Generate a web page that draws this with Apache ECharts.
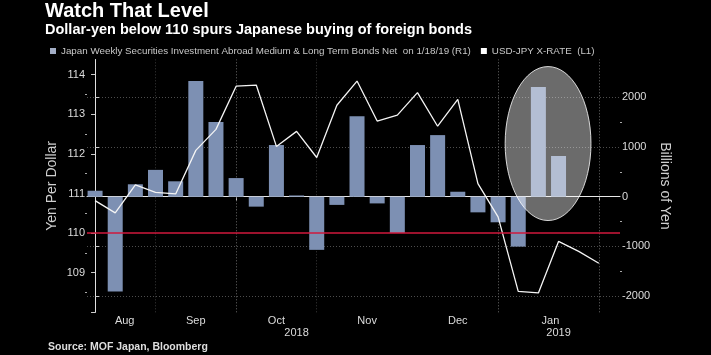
<!DOCTYPE html>
<html><head><meta charset="utf-8">
<script src="https://cdn.jsdelivr.net/npm/echarts@6/dist/echarts.min.js"></script>
<style>html,body{margin:0;padding:0;background:#000;}#c{width:711px;height:355px;}</style>
</head><body><div id="c"></div>
<script>
// ---- data ----
const barName = 'Japan Weekly Securities Investment Abroad Medium & Long Term Bonds Net  on 1/18/19 (R1)';
const lineName = 'USD-JPY X-RATE  (L1)';
// weekly net purchases, billions of yen (24 weeks, Aug 2018 - Jan 2019)
const bondFlows = [120, -1910, 250, 540, 310, 2330, 1505, 375, -200, 1040, 25, -1070, -165, 1620, -135, -730, 1040, 1240, 100, -315, -515, -1005, 2210, 820];
// weekly USD-JPY (26 weeks)
const usdjpy = [110.82, 110.51, 111.22, 111.03, 110.99, 112.09, 112.62, 113.71, 113.74, 112.19, 112.57, 111.91, 113.23, 113.84, 112.83, 112.98, 113.55, 112.70, 113.38, 111.25, 110.41, 108.53, 108.49, 109.79, 109.54, 109.24];
// axis labels (x positions in week index units)
const monthLabels = ['Aug', 'Sep', 'Oct', 'Nov', 'Dec', 'Jan'];
const monthLabelAt = [1.47, 5.0, 9.0, 13.5, 18.0, 22.6];
const yearLabels = ['2018', '2019'];
const yearLabelAt = [10, 23];
const yearBreakAt = [20];
const xTickAt = [7, 20, 25];
const xGridBright = [7, 20, 25];
const xGridFaint = [3, 11];
const leftTicks = [108, 109, 110, 111, 112, 113, 114];
const leftLabels = [109, 110, 111, 112, 113, 114];
const leftMinor = [108.5, 109.5, 110.5, 111.5, 112.5, 113.5];
const rightTicks = [-2000, -1000, 0, 1000, 2000];
const rightMinor = [-1500, -500, 500, 1500];
const refLevel = 110;

const FONT = 'Liberation Sans';
const LBL = '#dcdcdc';
const xMin = -0.4, xMax = 26.05;
const lMin = 108, lMax = 114.385;
const rMin = -2327, rMax = 2762;

const chart = echarts.init(document.getElementById('c'), null, {renderer: 'canvas'});
const option = {
  backgroundColor: '#000',
  animation: false,
  textStyle: {fontFamily: FONT},
  title: [
    {text: 'Watch That Level', left: 45, top: 1, padding: 0,
     textStyle: {color: '#fff', fontSize: 20, fontWeight: 'bold', fontFamily: FONT}},
    {text: 'Dollar-yen below 110 spurs Japanese buying of foreign bonds', left: 45, top: 22, padding: 0,
     textStyle: {color: '#fff', fontSize: 14.5, fontWeight: 'bold', fontFamily: FONT}},
    {text: 'Source: MOF Japan, Bloomberg', left: 48, top: 342, padding: 0,
     textStyle: {color: '#dedede', fontSize: 10.5, fontWeight: 'bold', fontFamily: FONT}}
  ],
  legend: {
    left: 50, top: 46, padding: 0, itemWidth: 6, itemHeight: 6, itemGap: 10, icon: 'rect',
    textStyle: {color: '#c8c8c8', fontSize: 9.8, fontFamily: FONT},
    data: [
      {name: barName, itemStyle: {color: '#a3aec6'}},
      {name: lineName, itemStyle: {color: '#ffffff'}}
    ]
  },
  grid: {left: 87, right: 91, top: 59.5, bottom: 42.7, containLabel: false},
  xAxis: [
    {type: 'value', position: 'bottom', min: xMin, max: xMax,
     axisLine: {show: true, lineStyle: {color: '#e8e8e8', width: 1}},
     axisTick: {show: true, length: 4, customValues: xTickAt, lineStyle: {color: '#cccccc'}},
     axisLabel: {show: true, customValues: monthLabelAt, margin: 3, color: LBL, fontSize: 11, fontFamily: FONT,
       formatter: v => monthLabels[monthLabelAt.indexOf(v)] || ''},
     splitLine: {show: false}},
    {type: 'value', position: 'bottom', offset: 13, min: xMin, max: xMax,
     axisLine: {show: false},
     axisTick: {show: true, length: 15, customValues: yearBreakAt, lineStyle: {color: '#9a9a9a'}},
     axisLabel: {show: true, customValues: yearLabelAt, margin: 2, color: LBL, fontSize: 11, fontFamily: FONT,
       formatter: v => yearLabels[yearLabelAt.indexOf(v)] || ''},
     splitLine: {show: false}}
  ],
  yAxis: [
    {type: 'value', position: 'left', min: lMin, max: lMax,
     name: 'Yen Per Dollar', nameLocation: 'middle', nameRotate: 90, nameGap: 28, nameMoveOverlap: false,
     nameTextStyle: {color: '#cfcfcf', fontSize: 14, fontFamily: FONT},
     axisLine: {show: true, lineStyle: {color: '#777'}},
     axisTick: {show: true, length: 4, customValues: leftTicks, lineStyle: {color: '#cccccc'}},
     axisLabel: {show: true, customValues: leftLabels, margin: 2, color: LBL, fontSize: 11, fontFamily: FONT,
       formatter: v => String(v)},
     splitLine: {show: false}},
    {type: 'value', position: 'right', min: rMin, max: rMax,
     name: 'Billions of Yen', nameLocation: 'middle', nameRotate: -90, nameGap: 38, nameMoveOverlap: false,
     nameTextStyle: {color: '#cfcfcf', fontSize: 14, fontFamily: FONT},
     axisLine: {show: true, lineStyle: {color: '#e0e0e0'}},
     axisTick: {show: true, length: 4, customValues: rightTicks, lineStyle: {color: '#cccccc'}},
     axisLabel: {show: true, customValues: rightTicks, margin: 2, color: LBL, fontSize: 11, fontFamily: FONT,
       formatter: v => String(Math.round(v))},
     splitLine: {show: true, lineStyle: {color: '#4d4d4d', type: [1, 2], width: 1}}},
    {type: 'value', position: 'left', min: lMin, max: lMax,
     axisLine: {show: false}, axisLabel: {show: false}, splitLine: {show: false},
     axisTick: {show: true, length: 2, customValues: leftMinor, lineStyle: {color: '#aaaaaa'}}},
    {type: 'value', position: 'right', min: rMin, max: rMax,
     axisLine: {show: false}, axisLabel: {show: false}, splitLine: {show: false},
     axisTick: {show: true, length: 2, customValues: rightMinor, lineStyle: {color: '#aaaaaa'}}}
  ],
  series: [
    {name: barName, type: 'bar', xAxisIndex: 0, yAxisIndex: 1, barWidth: 15,
     itemStyle: {color: '#7d90b3'},
     data: bondFlows.map((v, i) => [i, v]),
     markLine: {silent: true, symbol: 'none', label: {show: false}, z: 1,
       data: xGridBright.map(x => ({xAxis: x, lineStyle: {color: '#6a6a6a', type: [1, 2], width: 1}}))
         .concat(xGridFaint.map(x => ({xAxis: x, lineStyle: {color: '#3a3a3a', type: [1, 2], width: 1}})))}},
    {name: lineName, type: 'line', xAxisIndex: 0, yAxisIndex: 0, showSymbol: false, symbol: 'none',
     lineStyle: {color: '#f4f4f4', width: 1.3}, itemStyle: {color: '#fff'}, z: 3,
     data: usdjpy.map((v, i) => [i, v]),
     markLine: {silent: true, symbol: 'none', label: {show: false},
       lineStyle: {color: '#d0183c', width: 1.5, type: 'solid'},
       data: [{yAxis: refLevel}]}}
  ]
};
chart.setOption(option);

// highlight ellipse annotation around the latest two weeks
const hc = chart.convertToPixel({xAxisIndex: 0, yAxisIndex: 1}, [22.48, 1070]);
const he = chart.convertToPixel({xAxisIndex: 0, yAxisIndex: 1}, [22.48 + 2.13, 1070 + 1550]);
chart.setOption({
  graphic: [{type: 'ellipse', z: 100, silent: true,
    shape: {cx: hc[0], cy: hc[1], rx: Math.abs(he[0] - hc[0]), ry: Math.abs(he[1] - hc[1])},
    style: {fill: 'rgba(255,255,255,0.42)', stroke: 'rgba(255,255,255,0.8)', lineWidth: 1}}]
});
</script></body></html>
